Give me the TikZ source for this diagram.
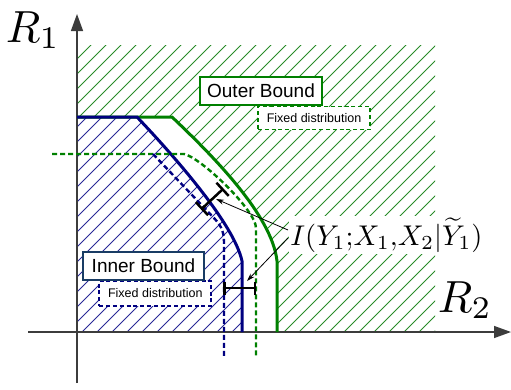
\documentclass[tikz,border=0pt]{standalone}
\usepackage{fontspec}
\setsansfont{Liberation Sans}
\usetikzlibrary{arrows.meta}
\definecolor{ogreen}{RGB}{0,128,0}
\definecolor{hgreen}{RGB}{40,140,40}
\definecolor{iblue}{RGB}{0,0,128}
\definecolor{hblue}{RGB}{40,40,150}
\definecolor{boxblue}{RGB}{25,60,100}
\definecolor{axisgray}{RGB}{60,60,60}
\tikzset{
  axisline/.style={axisgray, line width=1.4pt, -{Triangle[length=17pt,width=12pt]}},
  hatchline/.style={line width=0.9pt},
  boundline/.style={line width=3pt},
  fixline/.style={line width=2.4pt, dash pattern=on 5pt off 3pt},
  labelbox/.style={draw, line width=2pt, fill=white, inner sep=0pt, font=\fontsize{19}{22}\selectfont\sffamily},
  fixbox/.style={draw, line width=1.8pt, dash pattern=on 4pt off 2.8pt, fill=white, inner sep=0pt, font=\fontsize{12.5}{15}\selectfont\sffamily},
  ibeam/.style={line width=2.5pt},
  pointer/.style={line width=0.8pt, -{Stealth[length=8pt,width=5pt]}},
}
\begin{document}
\begin{tikzpicture}[x=1pt,y=-1pt]
\useasboundingbox (0,0) rectangle (511,389);
% green hatching (outside outer bound)
\begin{scope}
\clip (77,45) -- (435,45) -- (435,332) -- (277,332) -- (277,261) .. controls (272,215) and (212,155) .. (172,117) -- (77,117) -- cycle;
\foreach \c in {121,136,...,781} \draw[hatchline, hgreen] ({\c-400},400) -- (\c,0);
\end{scope}
% blue hatching (inner bound)
\begin{scope}
\clip (77,117) -- (137,117) .. controls (175,157) and (234,224) .. (242,261) -- (242,332) -- (77,332) -- cycle;
\foreach \c in {189,204,...,579} \draw[hatchline, hblue] ({\c-400},400) -- (\c,0);
\end{scope}
% axes
\coordinate (yb) at (77,383);
\coordinate (yt) at (77,14);
\coordinate (xl) at (28,332);
\coordinate (xr) at (511,332);
\draw[axisline] (yb) -- (yt);
\draw[axisline] (xl) -- (xr);
% bounds
\draw[boundline, ogreen] (77,117) -- (172,117) .. controls (212,155) and (272,215) .. (277,261) -- (277,332);
\draw[boundline, iblue] (77,117) -- (137,117) .. controls (175,157) and (234,224) .. (242,261) -- (242,332);
% fixed distribution curves
\draw[fixline, ogreen] (52,154) -- (184,154) .. controls (200,157) and (256,210) .. (256,228) -- (256,357);
\draw[fixline, iblue] (153,154) -- (212,216) .. controls (220,224) and (224,230) .. (224,242) -- (224,357);
% boxes
\node[fixbox, draw=ogreen, minimum width=112pt, minimum height=23pt] (ofix) at (314,118) {Fixed distribution};
\node[labelbox, draw=ogreen, minimum width=122pt, minimum height=28pt] (obox) at (261,90.5) {Outer Bound};
\node[fixbox, draw=iblue, minimum width=112pt, minimum height=25pt] (ifix) at (155.3,293.5) {\raisebox{-1pt}{Fixed distribution}};
\node[labelbox, draw=boxblue, minimum width=121pt, minimum height=28pt] (ibox) at (143.5,265.5) {Inner Bound};
% measurement bars
\coordinate (dA) at (201,209.5);
\coordinate (dB) at (223.5,188.5);
\coordinate (hA) at (223,288);
\coordinate (hB) at (256,288);
\draw[ibeam, {Bar[width=18pt]}-{Bar[width=18pt]}] (dA) -- (dB);
\draw[ibeam, {Bar[width=13pt]}-{Bar[width=13pt]}] (hA) -- (hB);
% label and pointers
\node[scale=2.85, fill=white, inner sep=0.4pt] (lab) at (386.5,235) {$I(Y_1{;}X_1{,}X_2|\widetilde{Y}_1)$};
\coordinate (p1) at (288,230);
\coordinate (p2) at (288,238);
\coordinate (t1) at (216,199);
\coordinate (t2) at (247,281);
\draw[pointer] (p1) -- (t1);
\draw[pointer] (p2) -- (t2);
% axis labels
\node[scale=4.5] (r1) at (33,30) {$R_1$};
\node[scale=4.5] (r2) at (465,300) {$R_2$};
\end{tikzpicture}
\end{document}
